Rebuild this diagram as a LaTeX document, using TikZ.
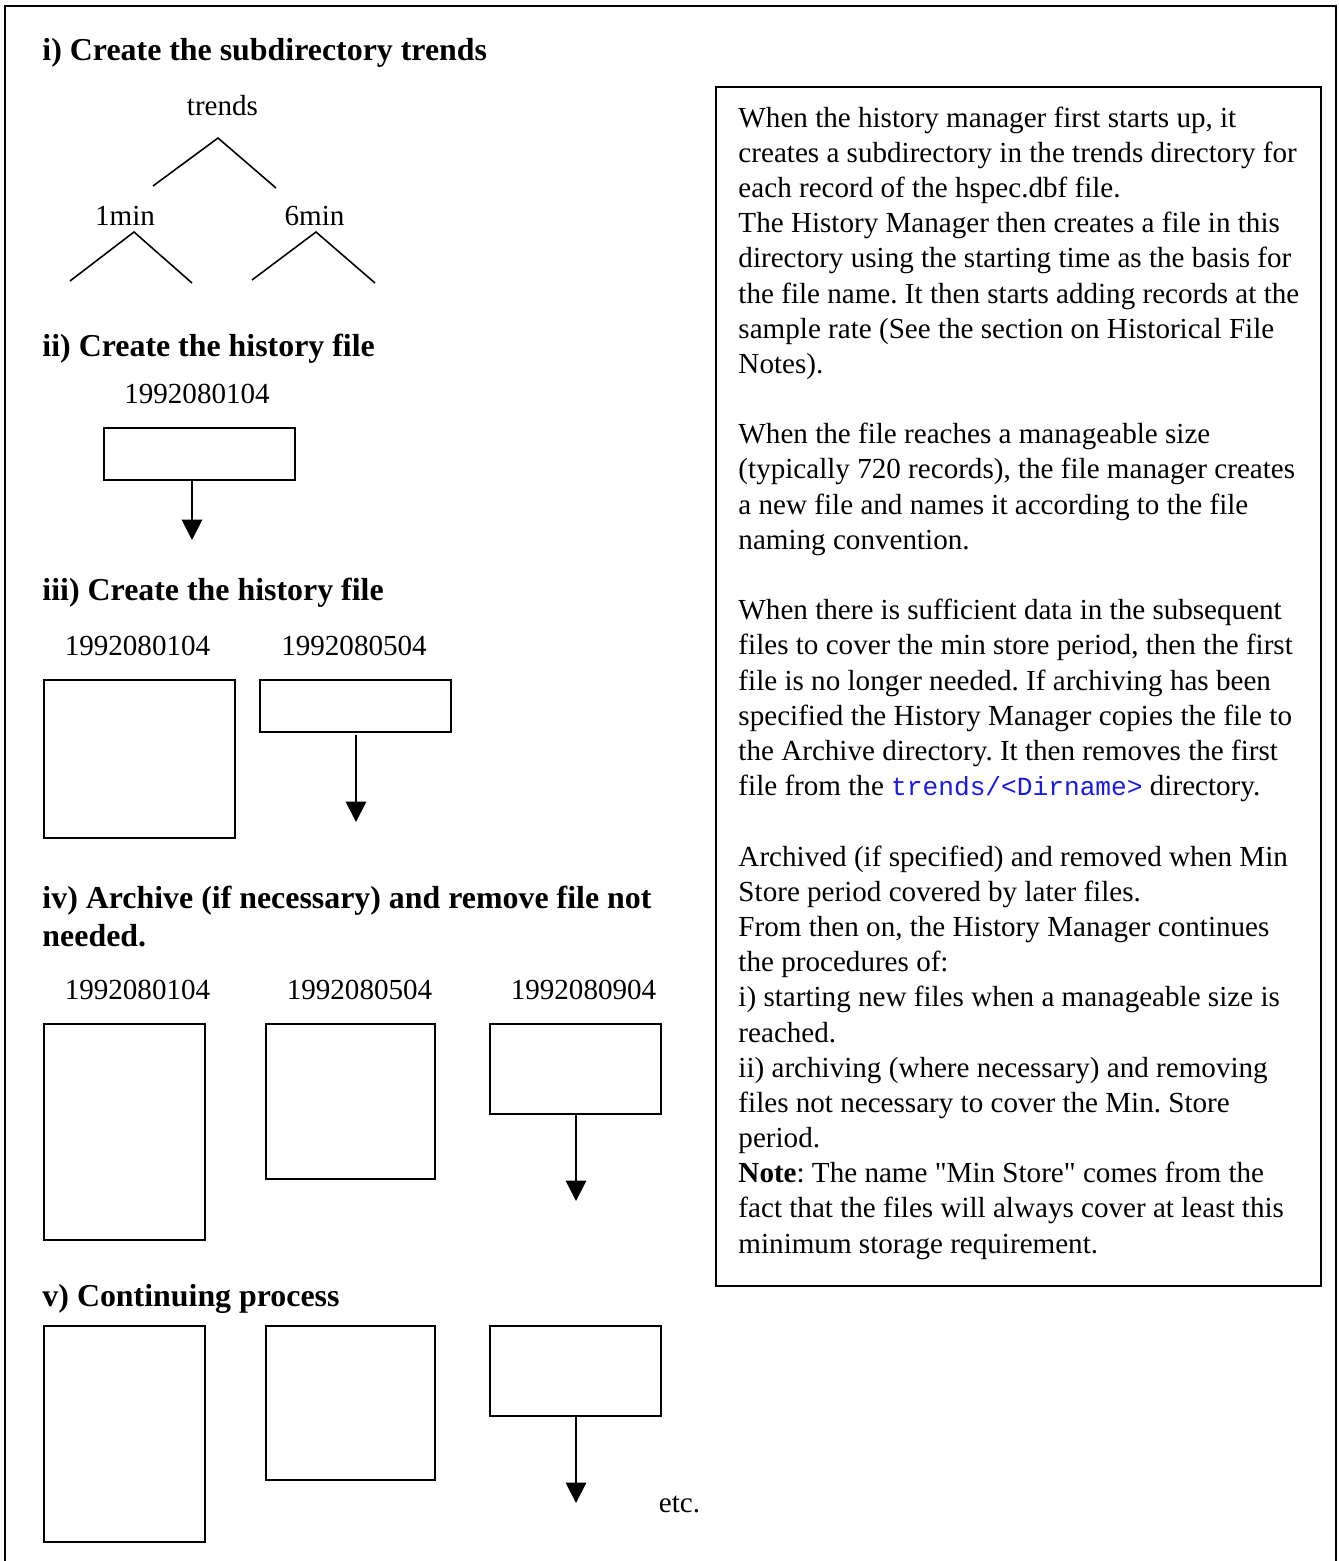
\documentclass[tikz,border=0pt]{standalone}
\usepackage{fontspec}
\setmainfont{Liberation Serif}
\newfontfamily\monof{Liberation Mono}
\usetikzlibrary{arrows.meta,fit}
\definecolor{codeblue}{RGB}{25,25,235}
\newcommand\bodysize{\fontsize{12pt}{14.5pt}\selectfont\frenchspacing}
\newcommand\headsize{\fontsize{13.15pt}{15.7pt}\selectfont\bfseries\frenchspacing}
\newcommand\codetxt[1]{{\monof\fontsize{10.8pt}{13pt}\selectfont\color{codeblue}#1}}

\begin{document}
\begin{tikzpicture}[x=0.4124pt,y=-0.4124pt,
  frame/.style={draw=black, line width=0.75pt},
  filebox/.style={draw=black, line width=0.8pt, inner sep=0pt},
  twig/.style={draw=black, line width=0.65pt},
  arr/.style={draw=black, line width=0.8pt, -{Triangle[width=8.4pt,length=8.4pt]}},
  head/.style={anchor=base west, inner sep=0pt, font=\headsize},
  lbl/.style={anchor=base, inner sep=0pt, font=\bodysize},
  txt/.style={anchor=base west, inner sep=0pt, font=\bodysize},
]
\useasboundingbox (0,0) rectangle (1338,1561);

% page frame (open at the bottom)
\draw[frame] (5,1575) -- (5,6) -- (1336,6) -- (1336,1575);

% ---------- i) directory tree ----------
\node[head] (h1) at (42,60) {i) Create the subdirectory trends};
\node[lbl] (trends) at (222.5,115) {trends};
\node[lbl] (m1) at (125,225) {1min};
\node[lbl] (m6) at (314.5,225) {6min};
\coordinate (tA) at (218,138);
\coordinate (tL) at (153,186);
\coordinate (tR) at (276,188);
\coordinate (aA) at (134,232);
\coordinate (aL) at (70,281);
\coordinate (aR) at (192,283);
\coordinate (bA) at (316,232);
\coordinate (bL) at (252,280);
\coordinate (bR) at (375,283);
\draw[twig] (tL) -- (tA) -- (tR);
\draw[twig] (aL) -- (aA) -- (aR);
\draw[twig] (bL) -- (bA) -- (bR);

% ---------- ii) first history file ----------
\node[head] (h2) at (42,356) {ii) Create the history file};
\node[lbl] (n2a) at (197,403) {1992080104};
\node[filebox, fit={(104,428) (295,480)}] (f2a) {};
\coordinate (e2) at (192,540);
\draw[arr] (e2 |- f2a.south) -- (e2);

% ---------- iii) second history file ----------
\node[head] (h3) at (42,600) {iii) Create the history file};
\node[lbl] (n3a) at (137.5,655) {1992080104};
\node[lbl] (n3b) at (354,655) {1992080504};
\node[filebox, fit={(44,680) (235,838)}] (f3a) {};
\node[filebox, fit={(260,680) (451,732)}] (f3b) {};
\coordinate (e3) at (356,822);
\draw[arr] (356,735) -- (e3);

% ---------- iv) archive / remove ----------
\node[head] (h4a) at (42,908) {iv) Archive (if necessary) and remove file not};
\node[head] (h4b) at (42,946) {needed.};
\node[lbl] (n4a) at (137.5,999) {1992080104};
\node[lbl] (n4b) at (359.5,999) {1992080504};
\node[lbl] (n4c) at (583.5,999) {1992080904};
\node[filebox, fit={(44,1024) (205,1240)}] (f4a) {};
\node[filebox, fit={(266,1024) (435,1179)}] (f4b) {};
\node[filebox, fit={(490,1024) (661,1114)}] (f4c) {};
\coordinate (e4) at (576,1201);
\draw[arr] (e4 |- f4c.south) -- (e4);

% ---------- v) continuing ----------
\node[head] (h5) at (42,1306) {v) Continuing process};
\node[filebox, fit={(44,1326) (205,1542)}] (f5a) {};
\node[filebox, fit={(266,1326) (435,1480)}] (f5b) {};
\node[filebox, fit={(490,1326) (661,1416)}] (f5c) {};
\coordinate (e5) at (576,1503);
\draw[arr] (e5 |- f5c.south) -- (e5);
\node[lbl] (etc) at (679.5,1512) {etc.};

% ---------- explanatory notes ----------
\node[frame, inner sep=0pt, fit={(716,87) (1321,1286)}] (notes) {};
\node[txt] (l1)  at (738,127)    {When the history manager first starts up, it};
\node[txt] (l2)  at (738,162.2)  {creates a subdirectory in the trends directory for};
\node[txt] (l3)  at (738,197.4)  {each record of the hspec.dbf file.};
\node[txt] (l4)  at (738,232.6)  {The History Manager then creates a file in this};
\node[txt] (l5)  at (738,267.8)  {directory using the starting time as the basis for};
\node[txt] (l6)  at (738,303)    {the file name. It then starts adding records at the};
\node[txt] (l7)  at (738,338.1)  {sample rate (See the section on Historical File};
\node[txt] (l8)  at (738,373.3)  {Notes).};
\node[txt] (l9)  at (738,443.7)  {When the file reaches a manageable size};
\node[txt] (l10) at (738,478.9)  {(typically 720 records), the file manager creates};
\node[txt] (l11) at (738,514.1)  {a new file and names it according to the file};
\node[txt] (l12) at (738,549.3)  {naming convention.};
\node[txt] (l13) at (738,619.7)  {When there is sufficient data in the subsequent};
\node[txt] (l14) at (738,654.9)  {files to cover the min store period, then the first};
\node[txt] (l15) at (738,690.1)  {file is no longer needed. If archiving has been};
\node[txt] (l16) at (738,725.2)  {specified the History Manager copies the file to};
\node[txt] (l17) at (738,760.4)  {the Archive directory. It then removes the first};
\node[txt] (l18) at (738,795.6)  {file from the \codetxt{trends/<Dirname>} directory.};
\node[txt] (l19) at (738,866)    {Archived (if specified) and removed when Min};
\node[txt] (l20) at (738,901.2)  {Store period covered by later files.};
\node[txt] (l21) at (738,936.4)  {From then on, the History Manager continues};
\node[txt] (l22) at (738,971.6)  {the procedures of:};
\node[txt] (l23) at (738,1006.8) {i) starting new files when a manageable size is};
\node[txt] (l24) at (738,1042)   {reached.};
\node[txt] (l25) at (738,1077.1) {ii) archiving (where necessary) and removing};
\node[txt] (l26) at (738,1112.3) {files not necessary to cover the Min. Store};
\node[txt] (l27) at (738,1147.5) {period.};
\node[txt] (l28) at (738,1182.7) {\textbf{Note}: The name \textquotedbl Min Store\textquotedbl{} comes from the};
\node[txt] (l29) at (738,1217.9) {fact that the files will always cover at least this};
\node[txt] (l30) at (738,1253.1) {minimum storage requirement.};
\end{tikzpicture}
\end{document}
